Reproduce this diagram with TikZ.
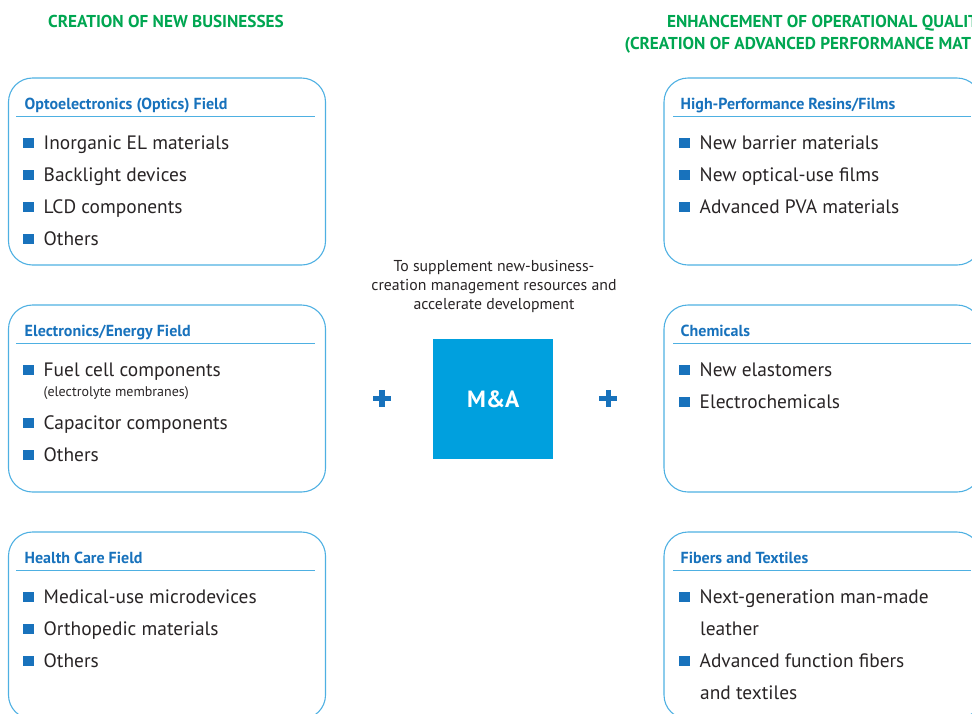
\documentclass[tikz,border=0pt]{standalone}
\usepackage{fontspec}
\setmainfont{PT Sans}
\usetikzlibrary{positioning}
\definecolor{fieldblue}{RGB}{24,114,188}
\definecolor{frameblue}{RGB}{78,176,226}
\definecolor{mablue}{RGB}{0,160,222}
\definecolor{headgreen}{RGB}{0,166,81}
\definecolor{textgray}{RGB}{40,36,37}
\newcommand{\fieldbullet}{{\color{fieldblue}\raisebox{1.3pt}{\rule{11pt}{10pt}}}\hspace{9.5pt}}
\tikzset{
    fieldbox/.style={draw=frameblue, line width=1.1pt, rounded corners=24pt, minimum width=317pt, minimum height=187pt, inner sep=0pt},
    fieldtitle/.style={anchor=base west, inner sep=0pt, text=fieldblue, font=\fontsize{16}{19}\selectfont\bfseries},
    fieldrule/.style={draw=frameblue, line width=1pt},
    item/.style={anchor=base west, inner sep=0pt, text=textgray, font=\fontsize{19.4}{22}\selectfont},
    subitem/.style={anchor=base west, inner sep=0pt, text=textgray, font=\fontsize{14}{16}\selectfont},
    heading/.style={anchor=base, inner sep=0pt, align=center, text=headgreen, font=\fontsize{17.2}{22}\selectfont\bfseries},
    note/.style={anchor=base, inner sep=0pt, align=center, text=textgray, font=\fontsize{15.8}{18.7}\selectfont},
    mabox/.style={fill=mablue, minimum size=120pt, inner sep=0pt, text=white, font=\fontsize{23.5}{28}\selectfont\bfseries},
    plusbar/.style={draw=fieldblue, line width=5.5pt},
}
\begin{document}
\begin{tikzpicture}[x=1pt, y=-1pt]
    \useasboundingbox (0,0) rectangle (972,713);
    \clip (0,0) rectangle (972,713);
    % headings (base = last line)
    \node[heading] (newbiz) at (166,27) {CREATION OF NEW BUSINESSES};
    \node[heading] (quality) at (827,49) {ENHANCEMENT OF OPERATIONAL QUALITY\\(CREATION OF ADVANCED PERFORMANCE MATERIALS)};
    % new business fields
    \node[fieldbox] (optobox) at (167,171.5) {};
    \node[fieldtitle] (optotitle) at (24.5,109.3) {Optoelectronics (Optics) Field};
    \draw[fieldrule] ([xshift=8.5pt,yshift=-39pt]optobox.north west) -- ([xshift=-11pt,yshift=-39pt]optobox.north east);
    \node[item] (opto1) at (23,149) {\fieldbullet Inorganic EL materials};
    \node[item] (opto2) at (23,181) {\fieldbullet Backlight devices};
    \node[item] (opto3) at (23,213) {\fieldbullet LCD components};
    \node[item] (opto4) at (23,245) {\fieldbullet Others};
    \node[fieldbox] (elecbox) at (167,398.5) {};
    \node[fieldtitle] (electitle) at (24.5,336.3) {Electronics/Energy Field};
    \draw[fieldrule] ([xshift=8.5pt,yshift=-39pt]elecbox.north west) -- ([xshift=-11pt,yshift=-39pt]elecbox.north east);
    \node[item] (elec1) at (23,376) {\fieldbullet Fuel cell components};
    \node[subitem] (elec1sub) at (43.5,396) {(electrolyte membranes)};
    \node[item] (elec2) at (23,429) {\fieldbullet Capacitor components};
    \node[item] (elec3) at (23,461) {\fieldbullet Others};
    \node[fieldbox] (healthbox) at (167,625.5) {};
    \node[fieldtitle] (healthtitle) at (24.5,563.3) {Health Care Field};
    \draw[fieldrule] ([xshift=8.5pt,yshift=-39pt]healthbox.north west) -- ([xshift=-11pt,yshift=-39pt]healthbox.north east);
    \node[item] (health1) at (23,603) {\fieldbullet Medical-use microdevices};
    \node[item] (health2) at (23,635) {\fieldbullet Orthopedic materials};
    \node[item] (health3) at (23,667) {\fieldbullet Others};
    % M&A in the middle
    \node[note] (manote) at (494,309) {To supplement new-business-\\creation management resources and\\accelerate development};
    \node[mabox] (ma) at (493.3,399.3) {M\&A};
    \coordinate (plusL) at (382,398.3);
    \coordinate (plusR) at (608.3,398.3);
    \draw[plusbar] ([xshift=-9pt]plusL) -- ([xshift=9pt]plusL);
    \draw[plusbar] ([yshift=8.5pt]plusL) -- ([yshift=-8.5pt]plusL);
    \draw[plusbar] ([xshift=-9pt]plusR) -- ([xshift=9pt]plusR);
    \draw[plusbar] ([yshift=8.5pt]plusR) -- ([yshift=-8.5pt]plusR);
    % performance materials fields
    \node[fieldbox] (resinbox) at (822.5,171.5) {};
    \node[fieldtitle] (resintitle) at (680.5,109.3) {High-Performance Resins/Films};
    \draw[fieldrule] ([xshift=10pt,yshift=-39pt]resinbox.north west) -- ([xshift=-11pt,yshift=-39pt]resinbox.north east);
    \node[item] (resin1) at (679,149) {\fieldbullet New barrier materials};
    \node[item] (resin2) at (679,181) {\fieldbullet New optical-use films};
    \node[item] (resin3) at (679,213) {\fieldbullet Advanced PVA materials};
    \node[fieldbox] (chembox) at (822.5,398.5) {};
    \node[fieldtitle] (chemtitle) at (680.5,336.3) {Chemicals};
    \draw[fieldrule] ([xshift=10pt,yshift=-39pt]chembox.north west) -- ([xshift=-11pt,yshift=-39pt]chembox.north east);
    \node[item] (chem1) at (679,376) {\fieldbullet New elastomers};
    \node[item] (chem2) at (679,408) {\fieldbullet Electrochemicals};
    \node[fieldbox] (fiberbox) at (822.5,625.5) {};
    \node[fieldtitle] (fibertitle) at (680.5,563.3) {Fibers and Textiles};
    \draw[fieldrule] ([xshift=10pt,yshift=-39pt]fiberbox.north west) -- ([xshift=-11pt,yshift=-39pt]fiberbox.north east);
    \node[item] (fiber1) at (679,603) {\fieldbullet Next-generation man-made};
    \node[item] (fiber1b) at (700,635) {leather};
    \node[item] (fiber2) at (679,667) {\fieldbullet Advanced function fibers};
    \node[item] (fiber2b) at (700,699) {and textiles};
\end{tikzpicture}
\end{document}
